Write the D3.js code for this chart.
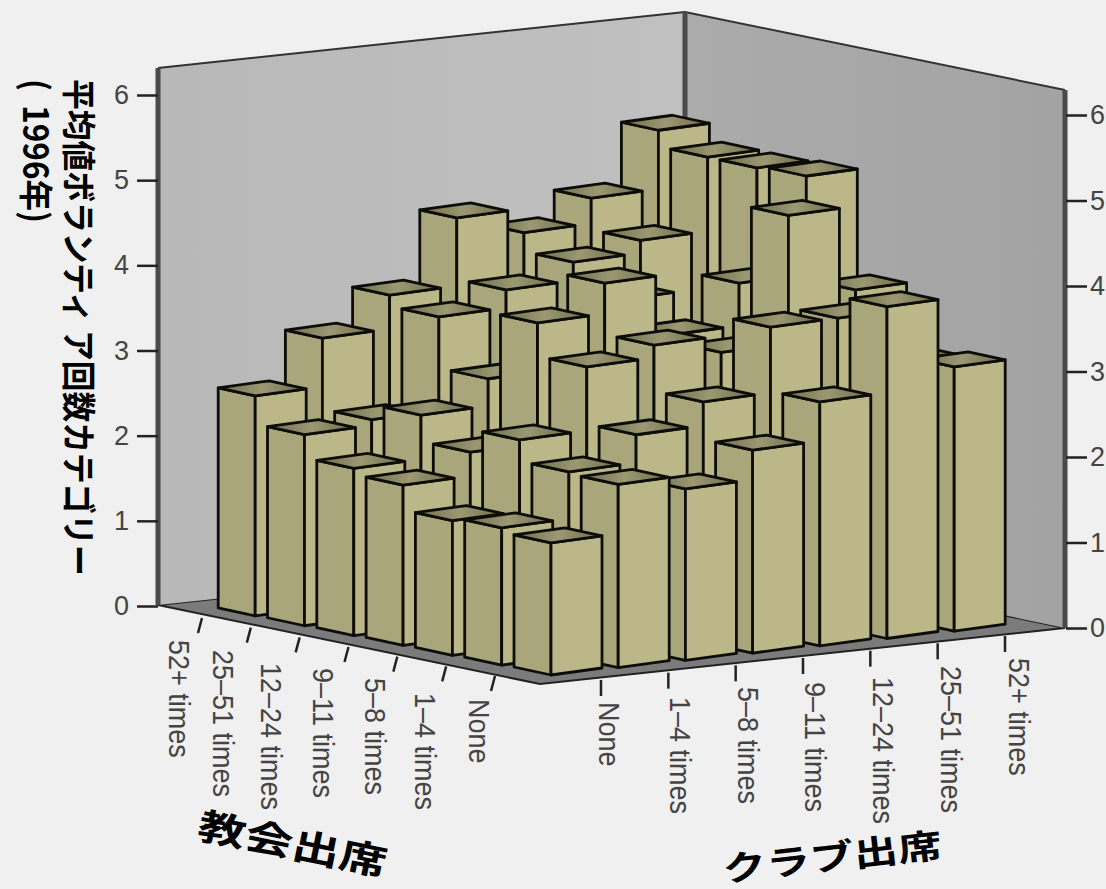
<!DOCTYPE html>
<html lang="ja">
<head>
<meta charset="utf-8">
<script src="https://cdn.jsdelivr.net/npm/d3@7"></script>
<style>
  html, body { margin: 0; padding: 0; background: #f0f0f0; overflow: hidden; }
  svg { display: block; }
  text { font-family: "Liberation Sans", Arial, sans-serif; }
  .title { font-family: "Noto Sans CJK JP", sans-serif; font-weight: 700; fill: #000; white-space: pre; }
  .axis text { font-size: 27px; fill: #444; }
  .axis path { display: none; }
  .axis line { stroke: #222; stroke-width: 2.5; }
</style>
</head>
<body>
<svg id="chart" width="1106" height="889"></svg>
<script>
// Attendance categories, ordered from the front corner outwards.
const churchCategories = ["None", "1–4 times", "5–8 times", "9–11 times", "12–24 times", "25–51 times", "52+ times"];
const clubCategories = ["None", "1–4 times", "5–8 times", "9–11 times", "12–24 times", "25–51 times", "52+ times"];
const valueTicks = [0, 1, 2, 3, 4, 5, 6];

// Mean volunteering category per church attendance level, one list per club level.
const clubNone = [1.55, 1.61, 1.58, 1.88, 1.96, 2.24, 2.58];
const club1to4 = [2.15, 2.18, 2.44, 2.18, 2.50, 2.33, 3.17];
const club5to8 = [2.01, 2.53, 3.21, 3.61, 2.84, 3.45, 3.59];
const club9to11 = [2.38, 2.83, 3.38, 3.99, 3.10, 3.68, 4.41];
const club12to24 = [2.86, 3.62, 3.21, 3.30, 3.60, 3.92, 4.15];
const club25to51 = [3.89, 3.64, 4.73, 3.82, 3.00, 4.09, 4.47];
const club52plus = [3.10, 3.05, 3.77, 4.99, 4.97, 4.98, 5.18];
const meanByClub = [clubNone, club1to4, club5to8, club9to11, club12to24, club25to51, club52plus];

const svg = d3.select("#chart");

// Oblique projection: each attendance step moves a fixed amount on screen.
const churchX = d3.scaleLinear([0, 6], [0, -295.8]);
const churchY = d3.scaleLinear([0, 6], [0, -59.1]);
const clubX = d3.scaleLinear([0, 6], [551, 954.2]);
const clubY = d3.scaleLinear([0, 6], [675, 631.2]);
const rise = d3.scaleLinear([0, 6], [0, 511.8]);

const leftAxisScale = d3.scaleLinear([0, 6], [606, 95]);
const rightAxisScale = d3.scaleLinear([0, 6], [628, 115]);

// Bar footprint, measured from the corner nearest the viewer.
const sideA = { dx: -37, dy: -8 };
const sideB = { dx: 51, dy: -7 };

const defs = svg.append("defs");
const wallLeft = defs.append("linearGradient").attr("id", "wallLeft");
wallLeft.append("stop").attr("offset", 0).attr("stop-color", "#b8b8b8");
wallLeft.append("stop").attr("offset", 1).attr("stop-color", "#c0c0c0");
const wallRight = defs.append("linearGradient").attr("id", "wallRight");
wallRight.append("stop").attr("offset", 0).attr("stop-color", "#ababab");
wallRight.append("stop").attr("offset", 1).attr("stop-color", "#a3a3a3");
const topFace = defs.append("linearGradient").attr("id", "topFace");
topFace.append("stop").attr("offset", 0).attr("stop-color", "#6f6c50");
topFace.append("stop").attr("offset", 0.5).attr("stop-color", "#9c9872");
topFace.append("stop").attr("offset", 1).attr("stop-color", "#6f6c50");

const poly = pts => pts.map(p => p.join(",")).join(" ");

// Chart box: two walls and the floor.
const corners = { topL: [158, 68], topB: [685, 12], topR: [1065, 90], botL: [158, 605], botB: [685, 548], botR: [1065, 628], front: [540, 684] };
svg.append("polygon").attr("points", poly([corners.botL, corners.botB, corners.botR, corners.front]))
  .attr("fill", "#7b7b7b").attr("stroke", "#222").attr("stroke-width", 2);
svg.append("polygon").attr("points", poly([corners.topL, corners.topB, corners.botB, corners.botL])).attr("fill", "url(#wallLeft)");
svg.append("polygon").attr("points", poly([corners.topB, corners.topR, corners.botR, corners.botB])).attr("fill", "url(#wallRight)");
svg.append("polyline").attr("points", poly([corners.topL, corners.topB, corners.topR]))
  .attr("fill", "none").attr("stroke", "#333").attr("stroke-width", 2);
[[corners.topL, corners.botL], [corners.topB, corners.botB], [corners.topR, corners.botR]].forEach(edge => {
  svg.append("line").attr("x1", edge[0][0]).attr("y1", edge[0][1]).attr("x2", edge[1][0]).attr("y2", edge[1][1])
    .attr("stroke", "#4a4a4a").attr("stroke-width", 5);
});

// Value axes on both outer wall edges.
const leftAxis = d3.axisLeft(leftAxisScale).tickValues(valueTicks).tickSize(21).tickPadding(8).tickFormat(d3.format("d"));
svg.append("g").attr("class", "axis").attr("transform", "translate(158,0)").call(leftAxis);
const rightAxis = d3.axisRight(rightAxisScale).tickValues(valueTicks).tickSize(21).tickPadding(3).tickFormat(d3.format("d"));
svg.append("g").attr("class", "axis").attr("transform", "translate(1066,0)").call(rightAxis);

// Bars, painted from the far corner to the near one.
const cells = [];
d3.range(6, -1, -1).forEach(i => d3.range(6, -1, -1).forEach(j => cells.push({ i, j, v: meanByClub[j][i] })));

const bars = svg.append("g").selectAll("g").data(cells).join("g")
  .attr("stroke", "#0d0d08").attr("stroke-width", 2.8).attr("stroke-linejoin", "round");

function barCorners(d) {
  const x = clubX(d.j) + churchX(d.i);
  const base = clubY(d.j) + churchY(d.i);
  const top = base - rise(d.v);
  return { x, base, top };
}

bars.append("polygon").attr("fill", "#aaa67c").attr("points", d => {
  const c = barCorners(d);
  return poly([[c.x, c.top], [c.x + sideA.dx, c.top + sideA.dy], [c.x + sideA.dx, c.base + sideA.dy], [c.x, c.base]]);
});
bars.append("polygon").attr("fill", "#bcb788").attr("points", d => {
  const c = barCorners(d);
  return poly([[c.x, c.top], [c.x + sideB.dx, c.top + sideB.dy], [c.x + sideB.dx, c.base + sideB.dy], [c.x, c.base]]);
});
bars.append("polygon").attr("fill", "url(#topFace)").attr("points", d => {
  const c = barCorners(d);
  return poly([[c.x, c.top], [c.x + sideA.dx, c.top + sideA.dy], [c.x + sideA.dx + sideB.dx, c.top + sideA.dy + sideB.dy], [c.x + sideB.dx, c.top + sideB.dy]]);
});

// Category ticks and rotated labels under the two floor edges.
const churchTickX = d3.scalePoint(churchCategories, [495, 202]);
const churchTickY = d3.scalePoint(churchCategories, [676, 618]);
const churchLabelX = d3.scaleOrdinal(churchCategories, [469, 415, 365, 313, 261, 213, 169]);
const churchLabelY = d3.scaleOrdinal(churchCategories, [699, 693, 678, 668, 663, 650, 640]);
const clubTickX = d3.scalePoint(clubCategories, [601, 1005]);
const clubTickY = d3.scalePoint(clubCategories, [680, 636]);
const clubLabelX = d3.scaleOrdinal(clubCategories, [599, 670, 738, 805, 873, 941, 1009]);
const clubLabelY = d3.scaleOrdinal(clubCategories, [702, 697, 687, 682, 677, 666, 658]);

const catAxis = svg.append("g").attr("class", "axis");
catAxis.selectAll("line.church").data(churchCategories).join("line").attr("class", "church")
  .attr("x1", d => churchTickX(d)).attr("y1", d => churchTickY(d))
  .attr("x2", d => churchTickX(d) - 4).attr("y2", d => churchTickY(d) + 15);
catAxis.selectAll("line.club").data(clubCategories).join("line").attr("class", "club")
  .attr("x1", d => clubTickX(d)).attr("y1", d => clubTickY(d))
  .attr("x2", d => clubTickX(d)).attr("y2", d => clubTickY(d) + 16);
catAxis.selectAll("text.church").data(churchCategories).join("text").attr("class", "church")
  .attr("transform", d => `translate(${churchLabelX(d)},${churchLabelY(d)}) rotate(90) scale(1,1.08)`).text(d => d);
catAxis.selectAll("text.club").data(clubCategories).join("text").attr("class", "club")
  .attr("transform", d => `translate(${clubLabelX(d)},${clubLabelY(d)}) rotate(90) scale(1,1.08)`).text(d => d);

// Axis titles.
svg.append("text").attr("class", "title").attr("font-size", 30)
  .attr("transform", "translate(66,79) rotate(90) scale(1.025,1.15)").text("平均値ボランティ ア回数カテゴリー");
svg.append("text").attr("class", "title").attr("font-size", 30)
  .attr("transform", "translate(23,79) rotate(90) scale(1.05,1.15)").text("(  1996年)");
svg.append("text").attr("class", "title").attr("font-size", 40)
  .attr("transform", "translate(196,838) rotate(11.5) scale(1.2,0.92)").text("教会出席");
svg.append("text").attr("class", "title").attr("font-size", 38)
  .attr("transform", "translate(724,882) rotate(-6.5) scale(1.16,0.9)").text("クラブ出席");
</script>
</body>
</html>
